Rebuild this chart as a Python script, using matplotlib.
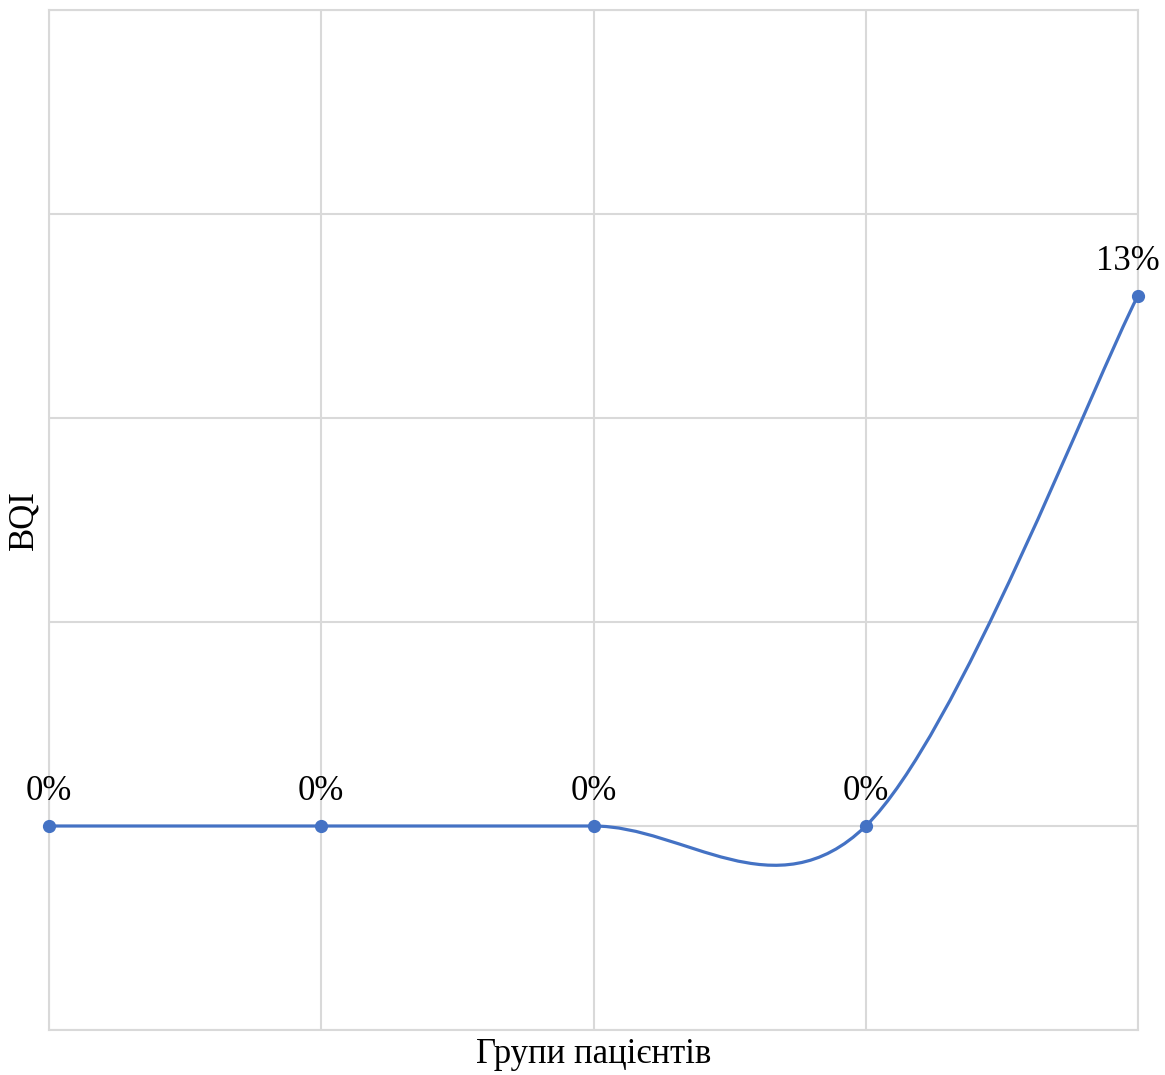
import matplotlib.pyplot as plt
from matplotlib.path import Path
from matplotlib.patches import PathPatch
import numpy as np

plt.rcParams['font.family'] = ['Liberation Serif', 'DejaVu Serif']

groups = [0, 1, 2, 3, 4]
bqi = [0.0, 0.0, 0.0, 0.0, 0.13]
labels = ['0%', '0%', '0%', '0%', '13%']

LINE_COLOR = '#4472C4'
GRID_COLOR = '#D9D9D9'


def smooth_path(x, y):
    # Catmull-Rom style bezier segments, like spreadsheet "smoothed line"
    px = np.concatenate([[x[0]], x, [x[-1]]])
    py = np.concatenate([[y[0]], y, [y[-1]]])
    verts = [(x[0], y[0])]
    codes = [Path.MOVETO]
    for i in range(1, len(px) - 2):
        c1 = (px[i] + (px[i + 1] - px[i - 1]) / 6, py[i] + (py[i + 1] - py[i - 1]) / 6)
        c2 = (px[i + 1] - (px[i + 2] - px[i]) / 6, py[i + 1] - (py[i + 2] - py[i]) / 6)
        verts += [c1, c2, (px[i + 1], py[i + 1])]
        codes += [Path.CURVE4] * 3
    return Path(verts, codes)


fig = plt.figure(figsize=(11.65, 10.75), dpi=100)
ax = fig.add_axes([49 / 1165, 45 / 1075, 1089 / 1165, 1020 / 1075])

x = np.array(groups, dtype=float)
y = np.array(bqi)
ax.add_patch(PathPatch(smooth_path(x, y), facecolor='none', edgecolor=LINE_COLOR,
                       lw=2.3, capstyle='round', zorder=3))
ax.plot(x, y, 'o', color=LINE_COLOR, ms=8.5, zorder=4, clip_on=False)

for i, (xi, yi, lab) in enumerate(zip(x, y, labels)):
    dx = -7 if i == len(x) - 1 else 0
    ax.annotate(lab, (xi, yi), xytext=(dx, 13), textcoords='offset points',
                ha='center', va='bottom', fontsize=25, color='black')

ax.set_xlim(0, 4)
ax.set_ylim(-0.05, 0.20)
ax.set_xticks(groups)
ax.set_yticks(np.arange(-0.05, 0.201, 0.05))
ax.tick_params(length=0, labelleft=False, labelbottom=False)
ax.grid(True, color=GRID_COLOR, lw=1.5)
ax.set_axisbelow(True)
for s in ax.spines.values():
    s.set_color(GRID_COLOR)
    s.set_linewidth(1.5)

ax.set_xlabel('Групи пацієнтів', fontsize=25, labelpad=6)
ax.set_ylabel('BQI', fontsize=25, labelpad=6)

plt.savefig('out.png', dpi=100)
